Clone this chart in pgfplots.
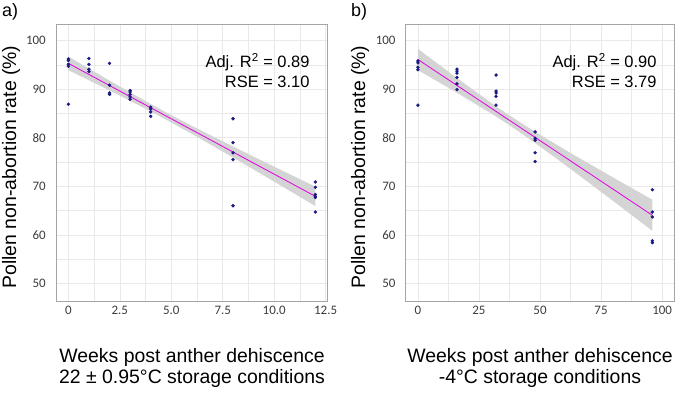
\documentclass[border=0pt]{standalone}
\usepackage{pgfplots}
\pgfplotsset{compat=1.18}
\usepackage{fontspec}
\setmainfont{Liberation Sans}
\newfontfamily\carlito{Carlito}
\definecolor{pt}{RGB}{25,25,130}
\definecolor{fitc}{RGB}{225,0,225}
\definecolor{bandc}{RGB}{212,212,212}
\definecolor{gridc}{RGB}{233,233,233}
\definecolor{framec}{RGB}{165,165,165}
\definecolor{tickc}{RGB}{60,60,60}

\pgfplotsset{
  panel/.style={
    scale only axis, width=271.7bp, height=277bp, anchor=south west,
    axis line style={framec, line width=0.8bp},
    grid=both,
    major grid style={gridc, line width=0.6bp},
    minor grid style={gridc, line width=0.4bp},
    major tick length=0pt, minor tick length=0pt,
    tick label style={font=\fontsize{13}{14}\selectfont\carlito, text=tickc},
    ymin=46.4, ymax=103.4,
    ytick={50,60,70,80,90,100}, yticklabels={50,60,70,80,90,100},
    minor ytick={55,65,75,85,95},
    yticklabel style={inner sep=0pt, xshift=-10bp},
    xticklabel style={inner sep=0pt, yshift=-5bp},
  }
}

\begin{document}
\begin{tikzpicture}
\useasboundingbox (0bp,0bp) rectangle (680bp,395bp);

% Panel a
\begin{axis}[panel, at={(56bp,94bp)},
  xmin=-0.6, xmax=12.6,
  xtick={0,2.5,5,7.5,10,12.5}, xticklabels={0,2.5,5.0,7.5,10.0,12.5},
  minor xtick={1.25,3.75,6.25,8.75,11.25}]
\addplot[draw=none, fill=bandc] coordinates {
 (0,96.71) (1,94.22) (2,91.76) (3,89.33) (4,86.95) (4.7,85.33) (6,82.44) (8,78.19) (10,74.04) (12,69.94)
 (12,65.94) (10,70.96) (8,75.94) (6,80.80) (4.7,83.83) (4,85.41) (3,87.60) (2,89.72) (1,91.82) (0,93.89)} -- cycle;
\addplot[fitc, line width=0.8bp] coordinates {(0,95.3) (12,67.94)};
\addplot[only marks, mark=*, mark size=1.5bp, pt] table {
x y
0 96.2
0 95.9
0 95.1
0 94.7
0 86.9
1 96.3
1 95.1
1 94.1
1 93.6
2 95.3
2 90.8
2 89.2
2 88.9
3 89.7
3 89.4
3 88.9
3 88.4
3 87.9
4 86.3
4 85.9
4 85.3
4 84.4
8 83.9
8 79.0
8 76.9
8 75.5
8 66.0
12 70.9
12 69.8
12 68.3
12 67.9
12 67.7
12 64.7
};
\end{axis}

% Panel b
\begin{axis}[panel, at={(405.7bp,94bp)}, width=268.6bp,
  xmin=-5, xmax=105,
  xtick={0,25,50,75,100}, xticklabels={0,25,50,75,100},
  minor xtick={12.5,37.5,62.5,87.5}]
\addplot[draw=none, fill=bandc] coordinates {
 (0,98.29) (16,92.26) (32,86.45) (37.5,84.58) (48,81.21) (64,76.42) (80,71.80) (96,67.24)
 (96,60.84) (80,66.96) (64,73.02) (48,78.93) (37.5,82.58) (32,84.37) (16,89.26) (0,93.91)} -- cycle;
\addplot[fitc, line width=0.8bp] coordinates {(0,96.1) (96,64.04)};
\addplot[only marks, mark=*, mark size=1.5bp, pt] table {
x y
0 95.8
0 95.4
0 94.5
0 94.0
0 86.7
16 94.1
16 93.7
16 93.3
16 92.4
16 91.1
16 89.9
32 92.9
32 89.6
32 89.2
32 88.5
32 86.7
48 81.2
48 79.9
48 79.5
48 76.9
48 75.1
96 69.3
96 64.7
96 63.7
96 58.8
96 58.4
};
\end{axis}

% annotations
\node[anchor=mid east, font=\fontsize{16.5}{18}\selectfont] at (313bp,330bp) {Adj. R\textsuperscript{2} = 0.89};
\node[anchor=mid east, font=\fontsize{16.5}{18}\selectfont] at (313bp,310bp) {RSE = 3.10};
\node[anchor=mid east, font=\fontsize{16.5}{18}\selectfont] at (660bp,330bp) {Adj. R\textsuperscript{2} = 0.90};
\node[anchor=mid east, font=\fontsize{16.5}{18}\selectfont] at (660bp,310bp) {RSE = 3.79};

% axis titles
\node[rotate=90, font=\fontsize{19.5}{20}\selectfont] at (11bp,228bp) {Pollen non-abortion rate (\%)};
\node[rotate=90, font=\fontsize{19.5}{20}\selectfont] at (360bp,228bp) {Pollen non-abortion rate (\%)};
\node[align=center, font=\fontsize{19.5}{22}\selectfont] at (192bp,27bp) {Weeks post anther dehiscence\\22 ± 0.95°C storage conditions};
\node[align=center, font=\fontsize{19.5}{22}\selectfont] at (540bp,27bp) {Weeks post anther dehiscence\\-4°C storage conditions};

% panel letters
\node[anchor=west, font=\fontsize{18}{20}\selectfont, inner sep=0pt] at (2bp,383bp) {a)};
\node[anchor=west, font=\fontsize{18}{20}\selectfont, inner sep=0pt] at (351bp,383bp) {b)};
\end{tikzpicture}
\end{document}
